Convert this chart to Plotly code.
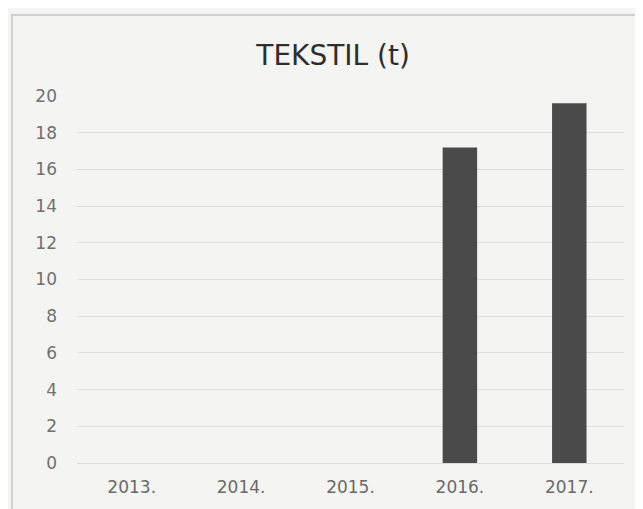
import plotly.graph_objects as go

years = ["2013.", "2014.", "2015.", "2016.", "2017."]
values = [None, None, None, 17.2, 19.6]
y_ticks = [0, 2, 4, 6, 8, 10, 12, 14, 16, 18, 20]

FONT = "DejaVu Sans, Verdana, sans-serif"

fig = go.Figure()
fig.add_trace(go.Bar(x=years, y=values, marker=dict(color="#4a4a4a", line=dict(width=0))))

fig.update_layout(
    width=635, height=501,
    margin=dict(l=69, r=19, t=88, b=46),
    paper_bgcolor="#f4f4f2",
    plot_bgcolor="#f4f4f2",
    bargap=0.685,
    showlegend=False,
    title=dict(text="TEKSTIL (t)", x=0.512, xanchor="center", y=0.905, yanchor="middle",
               font=dict(family=FONT, size=28, color="#2e2e2e")),
    font=dict(family=FONT, color="#707070", size=17),
    xaxis=dict(showgrid=False, showline=True, linecolor="#dadada", ticks="",
               tickfont=dict(family=FONT, size=17, color="#6a6a6a"), ticklabelstandoff=9),
    yaxis=dict(range=[0, 20], tickvals=y_ticks, showgrid=True, gridcolor="#dcdcdc", gridwidth=1,
               zeroline=False, ticks="", tickfont=dict(family=FONT, size=17, color="#707070"),
               ticklabelstandoff=19),
    shapes=[dict(type="rect", xref="paper", yref="paper", x0=-0.119, x1=1.022, y0=-0.2, y1=1.221,
                 line=dict(color="#d0d0d0", width=2), fillcolor="rgba(0,0,0,0)", layer="below")],
)

fig.write_html("out.html")
